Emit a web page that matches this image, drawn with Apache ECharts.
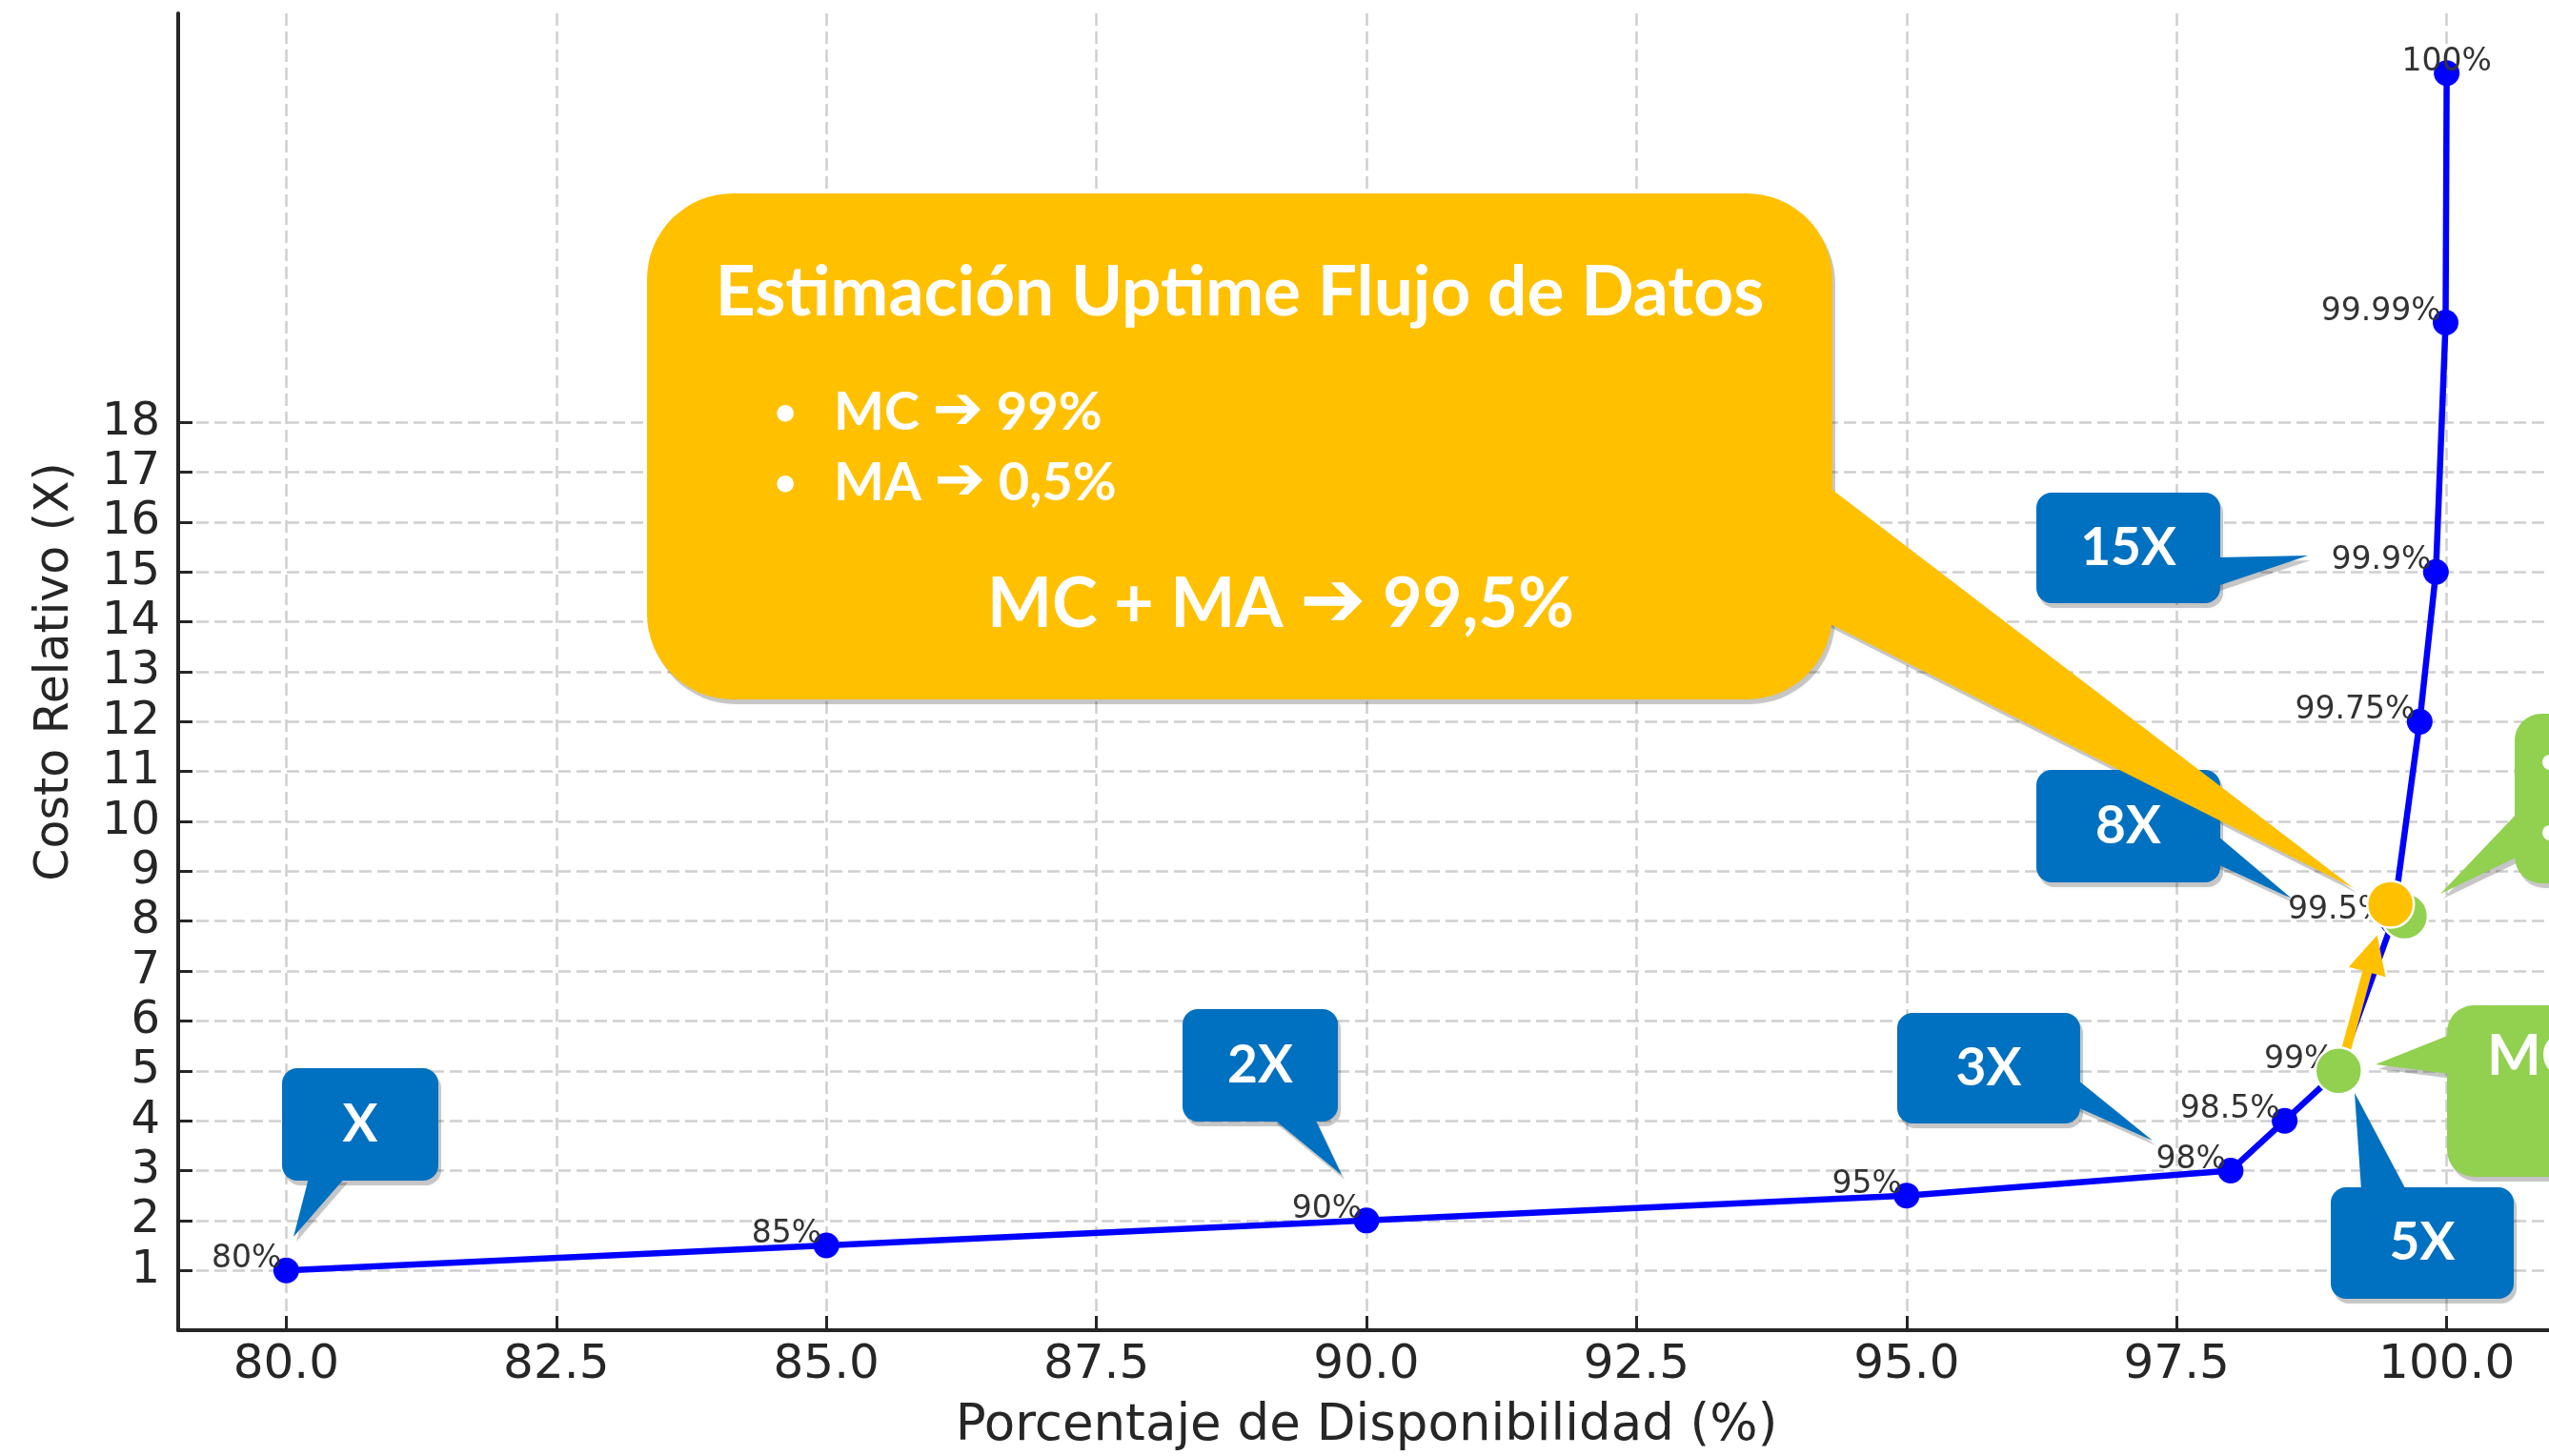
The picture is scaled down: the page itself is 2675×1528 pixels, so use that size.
<!DOCTYPE html>
<html>
<head>
<meta charset="utf-8">
<title>Costo relativo vs disponibilidad</title>
<script src="https://cdn.jsdelivr.net/npm/echarts@6/dist/echarts.min.js"></script>
<style>
  html, body { margin: 0; padding: 0; background: #ffffff; }
  #chart { width: 2675px; height: 1528px; }
</style>
</head>
<body>
<div id="chart"></div>
<script>
// availability (%) vs relative cost (X)
const availability = [80, 85, 90, 95, 98, 98.5, 99, 99.5, 99.75, 99.9, 99.99, 100];
const relativeCost = [1, 1.5, 2, 2.5, 3, 4, 5, 8, 12, 15, 20, 25];
const pointLabels = ["80%", "85%", "90%", "95%", "98%", "98.5%", "99%", "99.5%", "99.75%", "99.9%", "99.99%", "100%"];

const xTicks = [80, 82.5, 85, 87.5, 90, 92.5, 95, 97.5, 100];
const yTicks = [1, 2, 3, 4, 5, 6, 7, 8, 9, 10, 11, 12, 13, 14, 15, 16, 17, 18];

// highlighted points (MC, MC + MA) and the arrow between them
const greenMarks = [[99, 5], [99.61, 8.1]];
const yellowMarks = [[99.48, 8.34]];
const arrowPath = [[99.07, 5.43], [99.31, 7.35]];

const BLUE = "#0070C0";
const GREEN = "#92D050";
const YELLOW = "#FFC000";
const INK = "#262626";

// callout shapes drawn over the chart (pixel layout)
const blueCallouts = [
  { text: "X", box: [296, 1121, 460, 1239], tail: [[324, 1236], [362, 1236], [308, 1298]] },
  { text: "2X", box: [1241, 1059, 1404, 1177], tail: [[1336, 1174], [1380, 1174], [1408, 1233]] },
  { text: "3X", box: [1991, 1063, 2183, 1179], tail: [[2180, 1133], [2180, 1162], [2259, 1197]] },
  { text: "5X", box: [2446, 1246, 2638, 1363], tail: [[2478, 1249], [2525, 1249], [2471, 1147]] },
  { text: "8X", box: [2137, 808, 2330, 926], tail: [[2327, 877], [2327, 907], [2405, 943]] },
  { text: "15X", box: [2137, 517, 2330, 633], tail: [[2327, 585], [2327, 615], [2422, 583]] }
];

function balloon(box, tail, color, r) {
  const [x0, y0, x1, y1] = box;
  const shade = "rgba(0,0,0,0.2)";
  const dx = 3, dy = 5;
  return [
    { type: "polygon", z: 40, shape: { points: tail.map(p => [p[0] + dx, p[1] + dy]) },
      style: { fill: shade, shadowBlur: 6, shadowColor: shade } },
    { type: "rect", z: 40, shape: { x: x0 + dx, y: y0 + dy, width: x1 - x0, height: y1 - y0, r: r },
      style: { fill: shade, shadowBlur: 6, shadowColor: shade } },
    { type: "polygon", z: 41, shape: { points: tail }, style: { fill: color } },
    { type: "rect", z: 41, shape: { x: x0, y: y0, width: x1 - x0, height: y1 - y0, r: r }, style: { fill: color } }
  ];
}

function label(text, x, y, size, align) {
  return {
    type: "text", z: 42, x: x, y: y,
    style: {
      text: text, fill: "#ffffff", fontSize: size, fontWeight: "bold", fontFamily: "Lato",
      align: align || "center", verticalAlign: "middle",
      rich: { a: { fontSize: Math.round(size * 1.15), fontWeight: "bold", fontFamily: "DejaVu Sans", fill: "#ffffff" } }
    }
  };
}

const graphics = [];
blueCallouts.forEach(c => {
  graphics.push(...balloon(c.box, c.tail, BLUE, 16));
  graphics.push(label(c.text, (c.box[0] + c.box[2]) / 2, (c.box[1] + c.box[3]) / 2, 55));
});

// green callouts, cut by the right edge
graphics.push(...balloon([2639, 749, 2800, 927], [[2642, 853], [2642, 899], [2561, 938]], GREEN, 28));
graphics.push({ type: "circle", z: 42, shape: { cx: 2676, cy: 800, r: 8 }, style: { fill: "#ffffff" } });
graphics.push({ type: "circle", z: 42, shape: { cx: 2676, cy: 874, r: 8 }, style: { fill: "#ffffff" } });
graphics.push(...balloon([2568, 1055, 2800, 1235], [[2571, 1086], [2571, 1127], [2493, 1117]], GREEN, 28));
graphics.push(label("MC", 2610, 1109, 60, "left"));

// big yellow summary callout
graphics.push(...balloon([679, 203, 1923, 734], [[1919, 511], [1919, 654], [2470, 932]], YELLOW, 90));
graphics.push(label("Estimación Uptime Flujo de Datos", 1301, 307, 73));
graphics.push(label("•", 824, 433, 40));
graphics.push(label("MC {a|➔} 99%", 875, 433, 56, "left"));
graphics.push(label("•", 824, 507, 40));
graphics.push(label("MA {a|➔} 0,5%", 875, 507, 56, "left"));
graphics.push(label("MC + MA {a|➔} 99,5%", 1344, 635, 72));

const lineData = availability.map((x, i) => {
  const item = { value: [x, relativeCost[i]] };
  if (i === availability.length - 1) {
    item.label = { position: [13.5, 2], align: "center" };
  }
  return item;
});

const gridLine = { color: "#cfcfcf", width: 2.5, type: [13, 6] };

const chart = echarts.init(document.getElementById("chart"));
chart.setOption({
  animation: false,
  backgroundColor: "#ffffff",
  textStyle: { fontFamily: "DejaVu Sans" },
  grid: { left: 187, right: -6, top: 14, bottom: 132, containLabel: false, outerBoundsMode: "none" },
  xAxis: {
    type: "value",
    min: 79,
    max: 101,
    name: "Porcentaje de Disponibilidad (%)",
    nameLocation: "middle",
    nameGap: 75,
    nameTextStyle: { fontSize: 53, color: INK, fontFamily: "DejaVu Sans" },
    axisLine: { show: true, onZero: false, lineStyle: { color: INK, width: 4 } },
    axisTick: { show: true, inside: true, length: 15, customValues: xTicks, lineStyle: { color: INK, width: 3 } },
    axisLabel: {
      customValues: xTicks,
      formatter: v => Number(v).toFixed(1),
      fontSize: 50, color: INK, fontFamily: "DejaVu Sans", margin: 12
    },
    splitLine: { show: true, lineStyle: gridLine }
  },
  yAxis: {
    type: "value",
    min: -0.2,
    max: 26.2,
    name: "Costo Relativo (X)",
    nameLocation: "middle",
    nameGap: 104,
    nameTextStyle: { fontSize: 49, color: INK, fontFamily: "DejaVu Sans" },
    axisLine: { show: true, onZero: false, lineStyle: { color: INK, width: 4 } },
    axisTick: { show: true, inside: true, length: 15, customValues: yTicks, lineStyle: { color: INK, width: 3 } },
    axisLabel: { customValues: yTicks, fontSize: 48, color: INK, fontFamily: "DejaVu Sans", margin: 19 },
    splitLine: { show: true, lineStyle: gridLine }
  },
  series: [
    {
      type: "line",
      data: lineData,
      symbol: "circle",
      symbolSize: 27,
      showAllSymbol: true,
      lineStyle: { color: "#0000ff", width: 6.5 },
      itemStyle: { color: "#0000ff" },
      label: {
        show: true,
        formatter: p => pointLabels[p.dataIndex],
        position: [8.5, 2],
        align: "right",
        verticalAlign: "middle",
        color: "#333333",
        fontSize: 33,
        fontFamily: "DejaVu Sans"
      },
      z: 3
    },
    {
      type: "lines",
      coordinateSystem: "cartesian2d",
      data: [{ coords: arrowPath }],
      symbol: ["none", "triangle"],
      symbolSize: 40,
      lineStyle: { color: YELLOW, width: 10, opacity: 1, curveness: 0 },
      z: 4
    },
    {
      type: "scatter",
      data: greenMarks,
      symbol: "circle",
      symbolSize: 49,
      itemStyle: { color: GREEN, borderColor: "#ffffff", borderWidth: 2.5, opacity: 1 },
      z: 5
    },
    {
      type: "scatter",
      data: yellowMarks,
      symbol: "circle",
      symbolSize: 49,
      itemStyle: { color: YELLOW, borderColor: "#ffffff", borderWidth: 2.5, opacity: 1 },
      z: 6
    }
  ],
  graphic: graphics
});
</script>
</body>
</html>
